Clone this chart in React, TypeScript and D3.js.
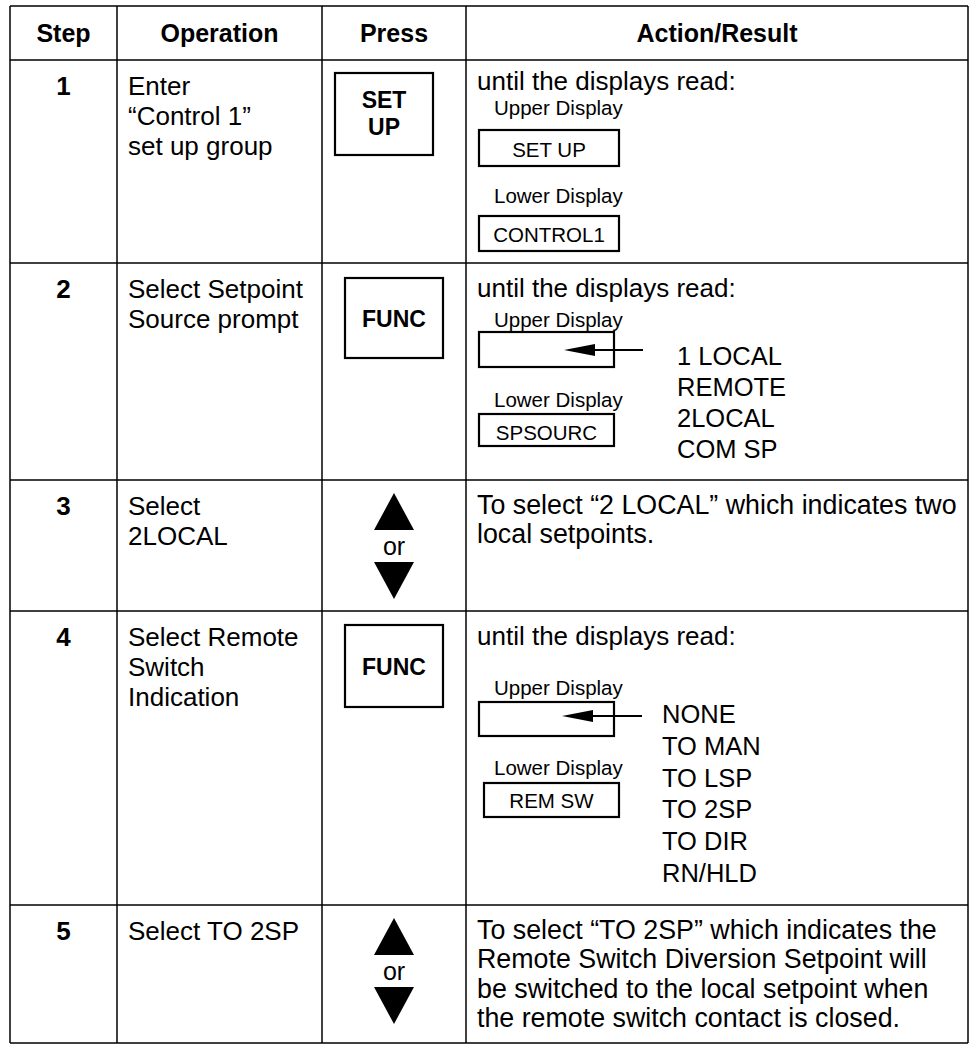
import React from "react";
import * as d3 from "d3";

// ---------- data ----------
const headers = ["Step", "Operation", "Press", "Action/Result"];
const steps = ["1", "2", "3", "4", "5"];
const operations = [
  ["Enter", "\u201CControl 1\u201D", "set up group"],
  ["Select Setpoint", "Source prompt"],
  ["Select", "2LOCAL"],
  ["Select Remote", "Switch", "Indication"],
  ["Select TO 2SP"],
];
const pressKeys = [["SET", "UP"], ["FUNC"], "arrows", ["FUNC"], "arrows"];
const orLabel = "or";
const introText = "until the displays read:";
const actionTexts = [
  [],
  [],
  ["To select \u201C2 LOCAL\u201D which indicates two", "local setpoints."],
  [],
  [
    "To select \u201CTO 2SP\u201D which indicates the",
    "Remote Switch Diversion Setpoint will",
    "be switched to the local setpoint when",
    "the remote switch contact is closed.",
  ],
];
const upperLabel = "Upper Display";
const lowerLabel = "Lower Display";
const upperDisplays = ["SET UP", "", null, "", null];
const lowerDisplays = ["CONTROL1", "SPSOURC", null, "REM SW", null];
const spSourceOptions = ["1 LOCAL", "REMOTE", "2LOCAL", "COM SP"];
const remSwitchOptions = ["NONE", "TO MAN", "TO LSP", "TO 2SP", "TO DIR", "RN/HLD"];
const optionLists = [null, spSourceOptions, null, remSwitchOptions, null];

// ---------- layout ----------
const W = 970;
const H = 1045;
const colEdges = [10, 117, 322, 466, 968];
const rowEdges = [6, 60, 263, 480, 611, 905, 1043];
const FONT = "'Liberation Sans', Arial, Helvetica, sans-serif";
const BODY = 26;
const PARA = 26.8;
const HEAD = 25;
const KEY = 23;
const SMALL = 20.5;
const LIST = 25.5;
const LINE = 30;

const colX = d3.scaleOrdinal<string, number>().domain(headers).range(colEdges.slice(0, 4));
const colR = d3.scaleOrdinal<string, number>().domain(headers).range(colEdges.slice(1));
const rowTop = d3.scaleOrdinal<string, number>().domain(steps).range(rowEdges.slice(1, 6));

// per-row display layout (offsets from row top)
const pressBoxes: Record<number, { x: number; y: number; w: number; h: number }> = {
  0: { x: 335, y: 13, w: 98, h: 82 },
  1: { x: 345, y: 15, w: 98, h: 80 },
  3: { x: 345, y: 14, w: 98, h: 82 },
};
const displayLayout: Record<number, any> = {
  0: { intro: 30, upLab: 55, upBox: [479, 70, 140, 36], upTxt: 97, loLab: 143, loBox: [479, 156, 140, 35], loTxt: 182 },
  1: { intro: 34, upLab: 64, upBox: [479, 69, 135, 35], upTxt: 0, arrowY: 87, arrowTip: 564, arrowEnd: 643, listX: 677, listY: 102, listStep: 31, loLab: 144, loBox: [479, 151, 135, 32], loTxt: 177 },
  3: { intro: 34, upLab: 84, upBox: [479, 91, 135, 34], upTxt: 0, arrowY: 105, arrowTip: 562, arrowEnd: 642, listX: 662, listY: 112, listStep: 31.8, loLab: 164, loBox: [484, 172, 135, 34], loTxt: 197 },
};
const arrowLayout: Record<number, { up: number; or: number; down: number }> = {
  2: { up: 13, or: 75, down: 82 },
  4: { up: 13, or: 75, down: 82 },
};

function triPath(cx: number, y0: number, w: number, h: number, up: boolean) {
  const p = d3.path();
  if (up) {
    p.moveTo(cx, y0);
    p.lineTo(cx + w / 2, y0 + h);
    p.lineTo(cx - w / 2, y0 + h);
  } else {
    p.moveTo(cx - w / 2, y0);
    p.lineTo(cx + w / 2, y0);
    p.lineTo(cx, y0 + h);
  }
  p.closePath();
  return p.toString();
}

export default function App() {
  const pressCx = (colX("Press") + colR("Press")) / 2;
  const stepCx = (colX("Step") + colR("Step")) / 2;
  const opX = colX("Operation") + 11;
  const actX = colX("Action/Result") + 11;

  return (
    <svg width={W} height={H} viewBox={`0 0 ${W} ${H}`} style={{ position: "absolute", left: 0, top: 0, background: "#fff" }} fontFamily={FONT}>
      <rect x={0} y={0} width={W} height={H} fill="#fff" />
      {headers.map((h) => (
        <text key={h} x={(colX(h) + colR(h)) / 2} y={42} textAnchor="middle" fontWeight="bold" fontSize={HEAD} fill="#000">
          {h}
        </text>
      ))}
      {steps.map((s, i) => {
        const top = rowTop(s);
        const dl = displayLayout[i];
        const press = pressKeys[i];
        const pb = pressBoxes[i];
        const al = arrowLayout[i];
        const opts = optionLists[i];
        return (
          <g key={s}>
            <text x={stepCx} y={top + 35} textAnchor="middle" fontWeight="bold" fontSize={BODY} fill="#000">{s}</text>
            {operations[i].map((line, j) => (
              <text key={j} x={opX} y={top + 35 + j * LINE} fontSize={BODY} fill="#000">{line}</text>
            ))}
            {press === "arrows" && al ? (
              <g>
                <path d={triPath(pressCx, top + al.up, 40, 37, true)} fill="#000" />
                <text x={pressCx} y={top + al.or} textAnchor="middle" fontSize={25} fill="#000">{orLabel}</text>
                <path d={triPath(pressCx, top + al.down, 40, 37, false)} fill="#000" />
              </g>
            ) : null}
            {Array.isArray(press) && pb ? (
              <g>
                <rect x={pb.x} y={top + pb.y} width={pb.w} height={pb.h} fill="none" stroke="#000" strokeWidth={2.2} />
                {press.map((t, j) => (
                  <text
                    key={j}
                    x={pb.x + pb.w / 2}
                    y={top + pb.y + pb.h / 2 + (press.length === 1 ? 9 : 7) + (j - (press.length - 1) / 2) * 27}
                    textAnchor="middle"
                    fontWeight="bold"
                    fontSize={KEY}
                    fill="#000"
                  >
                    {t}
                  </text>
                ))}
              </g>
            ) : null}
            {actionTexts[i].map((line, j) => (
              <text key={j} x={actX} y={top + 34 + j * 29.3} fontSize={PARA} fill="#000">{line}</text>
            ))}
            {dl ? (
              <g>
                <text x={actX} y={top + dl.intro} fontSize={BODY} fill="#000">{introText}</text>
                <text x={494} y={top + dl.upLab} fontSize={SMALL} fill="#000">{upperLabel}</text>
                <rect x={dl.upBox[0]} y={top + dl.upBox[1]} width={dl.upBox[2]} height={dl.upBox[3]} fill="none" stroke="#000" strokeWidth={2.2} />
                {upperDisplays[i] ? (
                  <text x={dl.upBox[0] + dl.upBox[2] / 2} y={top + dl.upTxt} textAnchor="middle" fontSize={SMALL} fill="#000">{upperDisplays[i]}</text>
                ) : null}
                <text x={494} y={top + dl.loLab} fontSize={SMALL} fill="#000">{lowerLabel}</text>
                <rect x={dl.loBox[0]} y={top + dl.loBox[1]} width={dl.loBox[2]} height={dl.loBox[3]} fill="none" stroke="#000" strokeWidth={2.2} />
                <text x={dl.loBox[0] + dl.loBox[2] / 2} y={top + dl.loTxt} textAnchor="middle" fontSize={SMALL} fill="#000">{lowerDisplays[i]}</text>
                {dl.arrowY ? (
                  <g>
                    <line x1={dl.arrowEnd} y1={top + dl.arrowY} x2={dl.arrowTip + 20} y2={top + dl.arrowY} stroke="#000" strokeWidth={2} />
                    <path d={`M${dl.arrowTip},${top + dl.arrowY} L${dl.arrowTip + 31},${top + dl.arrowY - 6} L${dl.arrowTip + 31},${top + dl.arrowY + 6} Z`} fill="#000" />
                  </g>
                ) : null}
                {opts
                  ? opts.map((o: string, j: number) => (
                      <text key={o} x={dl.listX} y={top + dl.listY + j * dl.listStep} fontSize={LIST} fill="#000">{o}</text>
                    ))
                  : null}
              </g>
            ) : null}
          </g>
        );
      })}
      {rowEdges.map((y, i) => (
        <line key={"h" + i} x1={colEdges[0]} x2={colEdges[4]} y1={y} y2={y} stroke="#000" strokeWidth={1.5} />
      ))}
      {colEdges.map((x, i) => (
        <line key={"v" + i} x1={x} x2={x} y1={rowEdges[0]} y2={rowEdges[6]} stroke="#000" strokeWidth={1.5} />
      ))}
    </svg>
  );
}
